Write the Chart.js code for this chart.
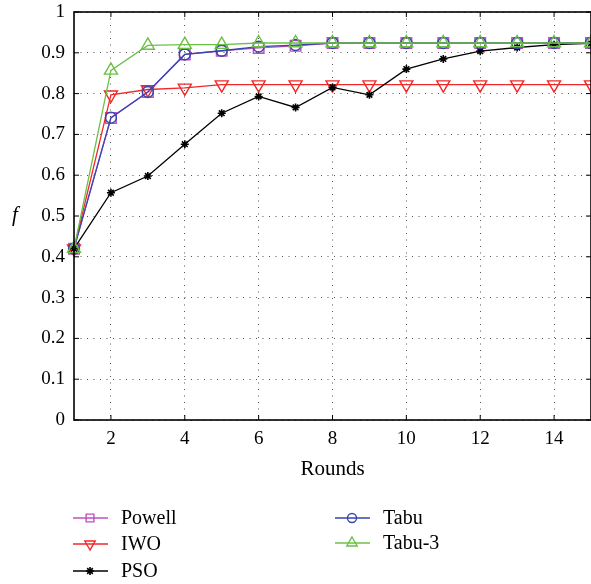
<!DOCTYPE html>
<html>
<head>
<meta charset="utf-8">
<script src="https://cdn.jsdelivr.net/npm/chart.js@4.4.1/dist/chart.umd.min.js"></script>
<style>
  html, body { margin: 0; padding: 0; background: #fff; }
  #wrap { width: 591px; height: 584px; }
</style>
</head>
<body>
<div id="wrap"><canvas id="fChart" width="591" height="584"></canvas></div>
<script>
// Data
const rounds = [1, 2, 3, 4, 5, 6, 7, 8, 9, 10, 11, 12, 13, 14, 15];
const powell = [0.42, 0.74, 0.804, 0.896, 0.905, 0.912, 0.917, 0.924, 0.924, 0.924, 0.924, 0.924, 0.924, 0.924, 0.924];
const iwo = [0.42, 0.797, 0.81, 0.814, 0.822, 0.822, 0.822, 0.822, 0.822, 0.822, 0.822, 0.822, 0.822, 0.822, 0.822];
const pso = [0.42, 0.557, 0.598, 0.676, 0.752, 0.793, 0.766, 0.815, 0.797, 0.86, 0.885, 0.904, 0.913, 0.92, 0.923];
const tabu = [0.42, 0.741, 0.804, 0.896, 0.905, 0.915, 0.919, 0.924, 0.924, 0.924, 0.924, 0.924, 0.924, 0.924, 0.924];
const tabu3 = [0.42, 0.857, 0.918, 0.92, 0.92, 0.924, 0.924, 0.924, 0.924, 0.924, 0.924, 0.924, 0.924, 0.924, 0.924];

const xTicks = [2, 4, 6, 8, 10, 12, 14];
const yTicks = [0, 0.1, 0.2, 0.3, 0.4, 0.5, 0.6, 0.7, 0.8, 0.9, 1];

const serif = "'Liberation Serif', 'DejaVu Serif', serif";

function series(label, values, color, style, radius, extra) {
  return Object.assign({
    label: label,
    data: rounds.map((r, i) => ({ x: r, y: values[i] })),
    borderColor: color,
    backgroundColor: "transparent",
    borderWidth: 1.3,
    pointStyle: style,
    pointRadius: radius,
    pointBorderColor: color,
    pointBackgroundColor: "transparent",
    pointBorderWidth: 1.4,
    tension: 0,
    clip: false
  }, extra || {});
}

const datasets = [
  series("Powell", powell, "#bf4fbf", "rect", 7.5, { order: 4 }),
  series("IWO", iwo, "#f02828", "triangle", 7.5, { pointRotation: 180, order: 3 }),
  series("PSO", pso, "#000000", "star", 4, { pointBorderWidth: 1.6, order: 2 }),
  series("Tabu", tabu, "#3446b0", "circle", 5.5, { order: 1 }),
  series("Tabu-3", tabu3, "#6cc046", "triangle", 7.5, { order: 0 })
];

// sizes of the small markers in the legend
const legendRadius = { rect: 5.5, triangle: 6, star: 4, circle: 4.5 };

// frame, inward ticks, the "f" label and the two-column legend
const decorations = {
  id: "decorations",
  afterDatasetsDraw(chart) {
    const ctx = chart.ctx;
    const a = chart.chartArea;
    const xs = chart.scales.x, ys = chart.scales.y;
    ctx.save();
    ctx.strokeStyle = "#000";
    ctx.lineWidth = 1.6;
    ctx.strokeRect(a.left, a.top, a.right - a.left, a.bottom - a.top);
    ctx.lineWidth = 1;
    ctx.beginPath();
    xTicks.forEach(v => {
      const px = xs.getPixelForValue(v);
      ctx.moveTo(px, a.bottom); ctx.lineTo(px, a.bottom - 5);
      ctx.moveTo(px, a.top); ctx.lineTo(px, a.top + 5);
    });
    yTicks.forEach(v => {
      const py = ys.getPixelForValue(v);
      ctx.moveTo(a.left, py); ctx.lineTo(a.left + 5, py);
      ctx.moveTo(a.right, py); ctx.lineTo(a.right - 5, py);
    });
    ctx.stroke();

    ctx.fillStyle = "#000";
    ctx.font = "italic 21px " + serif;
    ctx.textAlign = "center";
    ctx.textBaseline = "middle";
    ctx.fillText("f", 15, 215);

    const spots = [
      [73, 518], [73, 544], [73, 571], [335, 518], [335, 543]
    ];
    ctx.font = "20px " + serif;
    ctx.textAlign = "left";
    chart.data.datasets.forEach((ds, i) => {
      const [lx, ly] = spots[i];
      ctx.strokeStyle = ds.borderColor;
      ctx.lineWidth = 1.4;
      ctx.beginPath();
      ctx.moveTo(lx, ly); ctx.lineTo(lx + 35, ly);
      ctx.stroke();
      ctx.lineWidth = ds.pointBorderWidth;
      ctx.fillStyle = "transparent";
      Chart.helpers.drawPoint(ctx, {
        pointStyle: ds.pointStyle,
        rotation: ds.pointRotation || 0,
        radius: legendRadius[ds.pointStyle],
        borderWidth: ds.pointBorderWidth
      }, lx + 17, ly);
      ctx.fillStyle = "#000";
      ctx.fillText(ds.label, lx + 48, ly + 1);
    });
    ctx.restore();
  }
};

new Chart(document.getElementById("fChart"), {
  type: "line",
  data: { datasets: datasets },
  options: {
    responsive: false,
    animation: false,
    layout: { autoPadding: false, padding: { top: 12, right: 0, left: 0, bottom: 0 } },
    plugins: { legend: { display: false }, tooltip: { enabled: false } },
    scales: {
      x: {
        type: "linear",
        min: 1,
        max: 15,
        afterBuildTicks: s => { s.ticks = xTicks.map(v => ({ value: v })); },
        afterFit: s => {
          s.height = 164;
          s.paddingLeft = 0; s.paddingRight = 0;
        },
        border: { display: false, dash: [1, 5.5] },
        grid: { color: "#555", lineWidth: 1, drawTicks: false },
        ticks: { color: "#000", padding: 8, maxRotation: 0, font: { family: serif, size: 19 } },
        title: {
          display: true,
          text: "Rounds",
          color: "#000",
          font: { family: serif, size: 21 },
          padding: { top: 0, bottom: 102 }
        }
      },
      y: {
        min: 0,
        max: 1,
        afterBuildTicks: s => { s.ticks = yTicks.map(v => ({ value: v })); },
        afterFit: s => {
          s.width = 74;
          s.paddingTop = 0; s.paddingBottom = 0;
        },
        border: { display: false, dash: [1, 5.5] },
        grid: { color: "#555", lineWidth: 1, drawTicks: false },
        ticks: {
          color: "#000",
          padding: 9,
          font: { family: serif, size: 19 },
          callback: v => String(Number(v.toFixed(1)))
        }
      }
    }
  },
  plugins: [decorations]
});
</script>
</body>
</html>
